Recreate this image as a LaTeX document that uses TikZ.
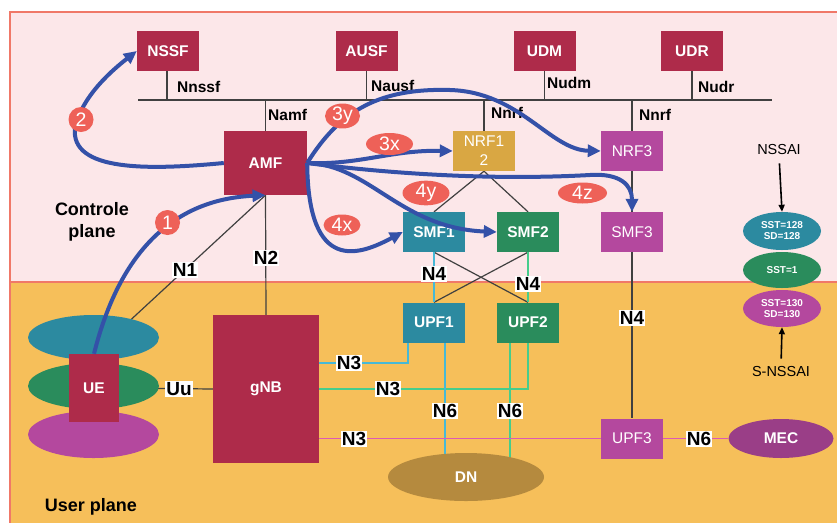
\documentclass[tikz,border=0pt]{standalone}
\usepackage{fontspec}
\setmainfont{Liberation Sans}
\usetikzlibrary{arrows.meta,shapes.geometric,calc}
\pgfdeclarelayer{bg}
\pgfsetlayers{bg,main}
\definecolor{crim}{RGB}{174,43,74}
\definecolor{tealc}{RGB}{44,138,160}
\definecolor{greenc}{RGB}{42,140,92}
\definecolor{goldc}{RGB}{217,167,67}
\definecolor{purpc}{RGB}{180,72,158}
\definecolor{mecc}{RGB}{154,62,135}
\definecolor{dnc}{RGB}{181,138,62}
\definecolor{bluea}{RGB}{52,81,168}
\definecolor{redl}{RGB}{238,97,88}
\definecolor{pinkbg}{RGB}{252,231,233}
\definecolor{orangebg}{RGB}{246,191,90}
\definecolor{borderc}{RGB}{240,120,104}
\definecolor{tlinec}{RGB}{70,185,215}
\definecolor{glinec}{RGB}{70,205,140}
\definecolor{mlinec}{RGB}{220,90,180}
\definecolor{dlinec}{RGB}{64,64,64}
\begin{document}
\begin{tikzpicture}[x=1pt,y=-1pt,
  nf/.style={rectangle, fill=crim, text=white, font=\fontsize{15.5}{18}\selectfont\bfseries,
    minimum width=62pt, minimum height=40pt, inner sep=0pt},
  nfl/.style={rectangle, text=white, font=\fontsize{15.5}{19}\selectfont,
    minimum width=62pt, minimum height=40pt, inner sep=0pt},
  ell/.style={ellipse, text=white, inner sep=0pt},
  iflab/.style={font=\fontsize{15.5}{18}\selectfont\bfseries, anchor=west, inner sep=0pt},
  nlab/.style={fill=white, font=\fontsize{19}{22}\selectfont\bfseries, inner sep=1pt},
  redlab/.style={ellipse, fill=redl, text=white, font=\fontsize{19.5}{22}\selectfont, inner sep=0pt},
  redcirc/.style={circle, fill=redl, text=white, font=\fontsize{19.5}{22}\selectfont, inner sep=0pt, minimum size=25pt},
  barr/.style={draw=bluea, line width=4pt, -{Triangle[length=13pt,width=12pt]}},
  karr/.style={draw=black, line width=1.6pt, -{Triangle[length=7pt,width=6pt]}},
  dline/.style={draw=dlinec, line width=1.2pt},
  tline/.style={draw=tlinec, line width=1.5pt},
  gline/.style={draw=glinec, line width=1.5pt},
  mline/.style={draw=mlinec, line width=1.5pt},
  planetxt/.style={font=\fontsize{18}{22}\selectfont\bfseries, align=center, inner sep=0pt}
]
\useasboundingbox (0,0) rectangle (837,523);

% ---------- nodes ----------
\node[nf] (NSSF) at (168,51) {NSSF};
\node[nf] (AUSF) at (366.5,51) {AUSF};
\node[nf] (UDM) at (544.5,51) {UDM};
\node[nf] (UDR) at (692,51) {UDR};
\coordinate (busL) at (138,100);
\coordinate (busR) at (772,100);

\node[nf, minimum width=83pt, minimum height=64pt] (AMF) at (265.5,163) {AMF};
\node[nfl, fill=goldc, align=center] (NRF1) at (484,151) {NRF1\\2};
\node[nfl, fill=purpc] (NRF3) at (632,151) {NRF3};
\node[nf, fill=tealc] (SMF1) at (434,232) {SMF1};
\node[nf, fill=greenc] (SMF2) at (528,232) {SMF2};
\node[nfl, fill=purpc] (SMF3) at (632,232) {SMF3};
\node[nf, fill=tealc] (UPF1) at (434,322.5) {UPF1};
\node[nf, fill=greenc] (UPF2) at (528,322.5) {UPF2};
\node[nfl, fill=purpc] (UPF3) at (632,438.5) {UPF3};
\node[ell, fill=mecc, minimum width=105pt, minimum height=39pt, font=\fontsize{15.5}{18}\selectfont\bfseries] (MEC) at (781,438.5) {MEC};
\node[ell, fill=dnc, minimum width=156pt, minimum height=48pt, font=\fontsize{15.5}{18}\selectfont\bfseries] (DN) at (466,477) {DN};

\node[ell, fill=tealc, minimum width=131pt, minimum height=45pt] (ue1) at (93.5,337.5) {};
\node[ell, fill=greenc, minimum width=131pt, minimum height=46pt] (ue2) at (93.5,386) {};
\node[ell, fill=purpc, minimum width=131pt, minimum height=47pt] (ue3) at (93.5,434.5) {};
\node[nf, minimum width=50pt, minimum height=68pt] (UE) at (94,388) {UE};
\node[nf, minimum width=106pt, minimum height=148pt] (gNB) at (266,389) {gNB};

% slice ellipses
\node[font=\fontsize{14.5}{17}\selectfont, inner sep=0pt] (nssai) at (779,150) {NSSAI};
\node[ell, fill=tealc, minimum width=78pt, minimum height=38pt, align=center, font=\fontsize{10}{11}\selectfont\bfseries] (s1) at (782,231) {SST=128\\SD=128};
\node[ell, fill=greenc, minimum width=78pt, minimum height=36pt, font=\fontsize{10}{11}\selectfont\bfseries] (s2) at (782,270) {SST=1};
\node[ell, fill=purpc, minimum width=78pt, minimum height=37pt, align=center, font=\fontsize{10}{11}\selectfont\bfseries] (s3) at (782,308.5) {SST=130\\SD=130};
\node[font=\fontsize{14.5}{17}\selectfont, inner sep=0pt] (snssai) at (781,371) {S-NSSAI};

% plane labels
\node[planetxt] (cp) at (92,222) {Controle\\plane};
\node[planetxt] (up) at (91,507) {User plane};

% interface labels on bus
\node[iflab] (lnssf) at (177,87) {Nnssf};
\node[iflab] (lausf) at (371,86) {Nausf};
\node[iflab] (ludm) at (547,83) {Nudm};
\node[iflab] (ludr) at (698,87) {Nudr};
\node[iflab] (lamf) at (268,115) {Namf};
\node[iflab] (lnrf1) at (491,113) {Nnrf};
\node[iflab] (lnrf3) at (639,115) {Nnrf};

% ---------- background and lines ----------
\begin{pgfonlayer}{bg}
  \fill[white] (0,0) rectangle (837,523);
  \fill[pinkbg] (10,12) rectangle (837,282);
  \fill[orangebg] (10,282) rectangle (837,523);
  \draw[borderc, line width=1.2pt] (837,12) -- (10,12) -- (10,523);
  \draw[borderc, line width=1.2pt] (10,282) -- (837,282);

  % bus
  \draw[dline] (busL) -- (busR);
  \draw[dline] ([xshift=-1pt]NSSF.south) -- ([xshift=-1pt]NSSF.south |- busL);
  \draw[dline] (AUSF.south) -- (AUSF.south |- busL);
  \draw[dline] (UDM.south) -- (UDM.south |- busL);
  \draw[dline] (UDR.south) -- (UDR.south |- busL);
  \draw[dline] (AMF.north) -- (AMF.north |- busL);
  \draw[dline] (NRF1.north) -- (NRF1.north |- busL);
  \draw[dline] (NRF3.north) -- (NRF3.north |- busL);

  % control plane links
  \draw[dline] (UE.north) -- (AMF.south);
  \draw[dline] (AMF.south) -- (gNB.north);
  \draw[dline] (UE.east) -- (gNB.west);
  \draw[dline] (NRF1.south) -- (SMF1.north);
  \draw[dline] (NRF1.south) -- (SMF2.north);
  \draw[dline] (NRF3.south) -- (SMF3.north);
  \draw[dline] (SMF1.south) -- (UPF2.north);
  \draw[dline] (SMF2.south) -- (UPF1.north);
  \draw[dline] (SMF3.south) -- (UPF3.north);
  \draw[tline] (SMF1.south) -- (UPF1.north);
  \draw[gline] (SMF2.south) -- (UPF2.north);

  % user plane links
  \draw[tline] ($(gNB.east)+(0,-26)$) -| ([xshift=-26pt]UPF1.south);
  \draw[gline] (gNB.east) -| (UPF2.south);
  \draw[tline] ([xshift=11pt]UPF1.south) -- ([xshift=11pt]UPF1.south |- DN.center);
  \draw[gline] ([xshift=-18pt]UPF2.south) -- ([xshift=-18pt]UPF2.south |- DN.center);
  \draw[mline] (gNB.east |- UPF3.west) -- (UPF3.west);
  \draw[mline] (UPF3.east) -- (MEC.west);
\end{pgfonlayer}

% link labels
\node[nlab] (tN1) at (185,270) {N1};
\node[nlab] (tN2) at (266,258) {N2};
\node[nlab] (tUu) at (179,389) {Uu};
\node[nlab] (tN3a) at (349,363) {N3};
\node[nlab] (tN3b) at (388,389) {N3};
\node[nlab] (tN3c) at (354,439) {N3};
\node[nlab] (tN4a) at (434,274) {N4};
\node[nlab] (tN4b) at (528,284) {N4};
\node[nlab] (tN4c) at (632,318) {N4};
\node[nlab] (tN6a) at (445,411) {N6};
\node[nlab] (tN6b) at (510,411) {N6};
\node[nlab] (tN6c) at (699,439) {N6};

% slice arrows
\draw[karr, shorten <=8pt] (nssai.south) -- (s1.north);
\draw[karr, shorten <=7pt] (snssai.north) -- (s3.south);

% ---------- blue procedure arrows ----------
\draw[barr] (UE.north) .. controls (115,270) and (160,200) .. (AMF.south);
\draw[barr] (AMF.west) .. controls (150,170) and (70,172) .. (75,128) .. controls (82,95) and (115,68) .. (NSSF.west);
\draw[barr] (AMF.east) .. controls (360,165) and (390,150) .. (NRF1.west);
\draw[barr] (AMF.east) .. controls (340,110) and (380,88) .. (450,90) .. controls (520,92) and (550,150) .. (NRF3.west);
\draw[barr] (AMF.east) .. controls (308,275) and (360,255) .. (SMF1.west);
\draw[barr] (AMF.east) .. controls (370,165) and (400,228) .. (SMF2.west);
\draw[barr] (AMF.east) .. controls (400,175) and (500,180) .. (590,175) .. controls (620,173) and (632,185) .. (SMF3.north);

% ---------- red step labels ----------
\node[redcirc] (c1) at (167.5,222.5) {1};
\node[redcirc] (c2) at (81,119.5) {2};
\node[redlab, minimum width=35pt, minimum height=23pt] (l3y) at (342.5,116) {3y};
\node[redlab, minimum width=47pt, minimum height=22pt] (l3x) at (389.5,144) {3x};
\node[redlab, minimum width=37pt, minimum height=21pt] (l4x) at (342,225) {4x};
\node[redlab, minimum width=47pt, minimum height=22pt] (l4y) at (426,193) {4y};
\node[redlab, minimum width=49pt, minimum height=21pt] (l4z) at (582.5,193) {4z};
\end{tikzpicture}
\end{document}
